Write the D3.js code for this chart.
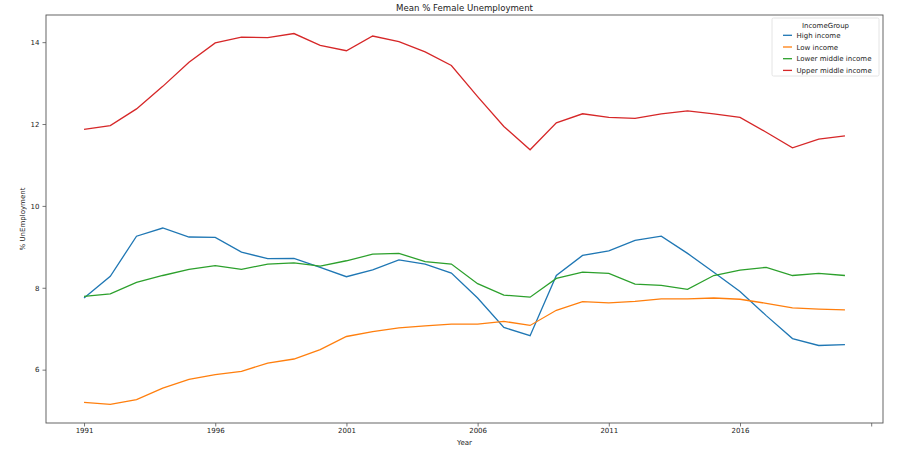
<!DOCTYPE html>
<html>
<head>
<meta charset="utf-8">
<script src="https://cdn.jsdelivr.net/npm/d3@7"></script>
<style>
  body { margin: 0; background: #fff; }
  text { font-family: "DejaVu Sans", sans-serif; fill: #222; }
</style>
</head>
<body>
<script>
// data
var years = d3.range(1991, 2021);
var groups = ["High income", "Low income", "Lower middle income", "Upper middle income"];
var colors = ["#1f77b4", "#ff7f0e", "#2ca02c", "#d62728"];

var highIncome = [7.75, 8.28, 9.26, 9.46, 9.24, 9.23, 8.87, 8.71, 8.72, 8.50,
  8.27, 8.44, 8.68, 8.58, 8.36, 7.75, 7.03, 6.83, 8.30, 8.79,
  8.90, 9.16, 9.26, 8.84, 8.38, 7.91, 7.32, 6.76, 6.59, 6.61];
var lowIncome = [5.20, 5.15, 5.27, 5.55, 5.76, 5.88, 5.96, 6.16, 6.26, 6.49,
  6.81, 6.93, 7.02, 7.07, 7.11, 7.11, 7.18, 7.08, 7.45, 7.66,
  7.63, 7.67, 7.73, 7.73, 7.75, 7.72, 7.62, 7.51, 7.48, 7.46];
var lowerMiddle = [7.79, 7.85, 8.13, 8.30, 8.45, 8.54, 8.45, 8.58, 8.61, 8.53,
  8.66, 8.82, 8.84, 8.64, 8.58, 8.10, 7.82, 7.77, 8.23, 8.38,
  8.35, 8.09, 8.06, 7.96, 8.30, 8.43, 8.50, 8.30, 8.35, 8.30];
var upperMiddle = [11.87, 11.96, 12.37, 12.92, 13.51, 13.98, 14.12, 14.11, 14.21, 13.92,
  13.79, 14.15, 14.01, 13.76, 13.43, 12.67, 11.94, 11.37, 12.03, 12.25,
  12.16, 12.14, 12.25, 12.32, 12.25, 12.16, 11.80, 11.42, 11.63, 11.71];

var xTicks = [1991, 1996, 2001, 2006, 2011, 2016, 2021];
var yTicks = [6, 8, 10, 12, 14];

var series = [highIncome, lowIncome, lowerMiddle, upperMiddle];

var svgWidth = 912;
var svgHeight = 464;

var margin = { top: 15, right: 29, bottom: 41, left: 46 };

var width = svgWidth - margin.left - margin.right;
var height = svgHeight - margin.top - margin.bottom;

var svg = d3.select("body")
  .append("svg")
  .attr("width", svgWidth)
  .attr("height", svgHeight);

var chartGroup = svg.append("g")
  .attr("transform", `translate(${margin.left}, ${margin.top})`);

// matplotlib style 5% padding around the data
var allVals = d3.merge(series);
var yMin = d3.min(allVals), yMax = d3.max(allVals);
var yPad = (yMax - yMin) * 0.05;
var xPad = (d3.max(years) - d3.min(years)) * 0.05;

var xScale = d3.scaleLinear()
  .domain([d3.min(years) - xPad, d3.max(years) + xPad])
  .range([0, width]);

var yScale = d3.scaleLinear()
  .domain([yMin - yPad, yMax + yPad])
  .range([height, 0]);

var bottomAxis = d3.axisBottom(xScale)
  .tickValues(xTicks)
  .tickSize(3.5)
  .tickPadding(2)
  .tickFormat(d => d === 2021 ? "" : d);

var leftAxis = d3.axisLeft(yScale)
  .tickValues(yTicks)
  .tickSize(3.5)
  .tickPadding(3);

// lines
var line = d3.line()
  .x((d, i) => xScale(years[i]))
  .y(d => yScale(d));

chartGroup.selectAll(".series")
  .data(series)
  .enter()
  .append("path")
  .attr("class", "series")
  .attr("fill", "none")
  .attr("stroke", (d, i) => colors[i])
  .attr("stroke-width", 1.3)
  .attr("d", line);

// frame
chartGroup.append("rect")
  .attr("width", width)
  .attr("height", height)
  .attr("fill", "none")
  .attr("stroke", "#555")
  .attr("stroke-width", 0.9);

var xg = chartGroup.append("g")
  .attr("transform", `translate(0, ${height})`)
  .call(bottomAxis);

var yg = chartGroup.append("g")
  .call(leftAxis);

[xg, yg].forEach(function(g) {
  g.select(".domain").remove();
  g.selectAll(".tick line").attr("stroke", "#555").attr("stroke-width", 0.8);
  g.selectAll(".tick text").style("font-size", "7px").style("font-family", "DejaVu Sans").attr("fill", "#222");
});

// title + axis labels
svg.append("text")
  .attr("x", margin.left + width / 2)
  .attr("y", 11)
  .attr("text-anchor", "middle")
  .style("font-size", "8.6px")
  .text("Mean % Female Unemployment");

svg.append("text")
  .attr("x", margin.left + width / 2)
  .attr("y", 445)
  .attr("text-anchor", "middle")
  .style("font-size", "7px")
  .text("Year");

svg.append("text")
  .attr("transform", "rotate(-90)")
  .attr("x", -(margin.top + height / 2))
  .attr("y", 25)
  .attr("text-anchor", "middle")
  .style("font-size", "7px")
  .text("% UnEmployment");

// legend
var legend = svg.append("g")
  .attr("transform", "translate(772, 18)");

legend.append("rect")
  .attr("width", 107)
  .attr("height", 58)
  .attr("rx", 1.5)
  .attr("fill", "#fff")
  .attr("fill-opacity", 0.8)
  .attr("stroke", "#ddd")
  .attr("stroke-width", 0.8);

legend.append("text")
  .attr("x", 53.5)
  .attr("y", 9.5)
  .attr("text-anchor", "middle")
  .style("font-size", "7px")
  .text("IncomeGroup");

var items = legend.selectAll(".item")
  .data(groups)
  .enter()
  .append("g")
  .attr("class", "item")
  .attr("transform", (d, i) => `translate(0, ${17.3 + i * 11.7})`);

items.append("line")
  .attr("x1", 11)
  .attr("x2", 20)
  .attr("stroke", (d, i) => colors[i])
  .attr("stroke-width", 1.3);

items.append("text")
  .attr("x", 24.5)
  .attr("y", 2.5)
  .style("font-size", "7px")
  .text(d => d);
</script>
</body>
</html>
